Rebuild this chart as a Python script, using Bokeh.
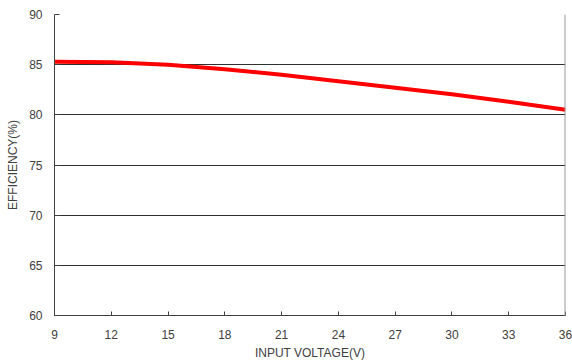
from bokeh.plotting import figure
from bokeh.models import FixedTicker, Span, Range1d
from bokeh.embed import file_html
from bokeh.resources import INLINE

# Data
voltage = [9, 12, 15, 18, 21, 24, 27, 30, 33, 36]
efficiency = [85.3, 85.25, 85.0, 84.55, 84.0, 83.35, 82.7, 82.05, 81.3, 80.5]
x_ticks = [9, 12, 15, 18, 21, 24, 27, 30, 33, 36]
y_ticks = [60, 65, 70, 75, 80, 85, 90]

FONT = "Liberation Sans"
TXT = "#404040"

p = figure(width=572, height=363, output_backend="svg", toolbar_location=None,
           x_range=Range1d(9, 36), y_range=Range1d(60, 90),
           min_border_left=54, min_border_right=7, min_border_top=14, min_border_bottom=48)
p.outline_line_color = None
p.background_fill_color = "white"

p.line(voltage, efficiency, line_color="#ff0000", line_width=4)

for ax in (p.xaxis[0], p.yaxis[0]):
    ax.major_label_text_font = FONT
    ax.major_label_text_font_size = "12px"
    ax.major_label_text_color = TXT
    ax.axis_label_text_font = FONT
    ax.axis_label_text_font_size = "12px"
    ax.axis_label_text_font_style = "normal"
    ax.axis_label_text_color = TXT
    ax.axis_line_color = "#404040"
    ax.major_tick_line_color = "#404040"
    ax.major_tick_out = 0
    ax.minor_tick_line_color = None

p.xaxis.ticker = FixedTicker(ticks=x_ticks)
p.yaxis.ticker = FixedTicker(ticks=y_ticks)
p.xaxis.axis_label = "INPUT VOLTAGE(V)"
p.yaxis.axis_label = "EFFICIENCY(%)"
p.xaxis.major_tick_in = 4
p.yaxis.major_tick_in = 5
p.xaxis.major_label_standoff = 14
p.xaxis.axis_label_standoff = 4
p.yaxis.major_label_standoff = 12
p.yaxis.axis_label_standoff = 6

p.xgrid.grid_line_color = None
p.ygrid.grid_line_color = "#303030"
p.ygrid.grid_line_width = 1

right = Span(location=36, dimension="height", line_color="#999999", line_width=2)
p.add_layout(right)

open("out.html", "w").write(file_html(p, INLINE))
